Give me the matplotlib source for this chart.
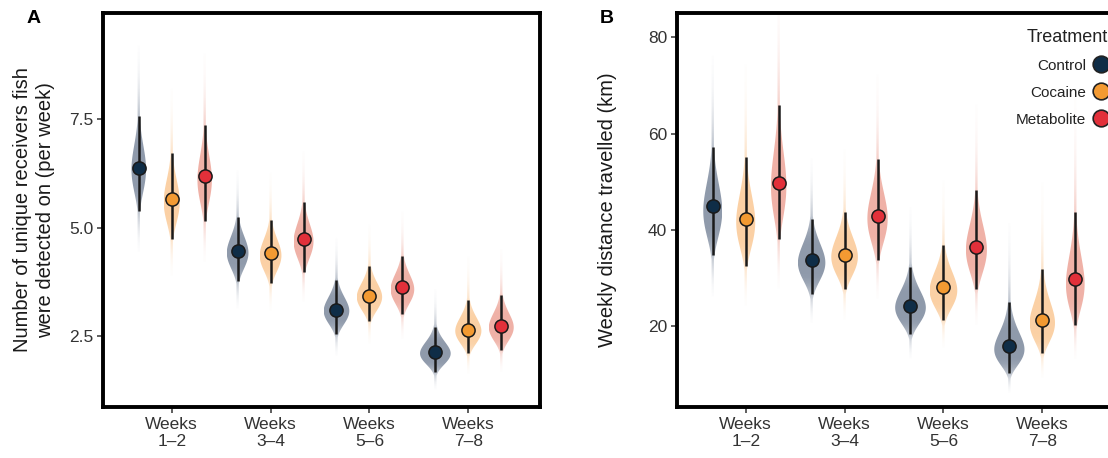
import numpy as np
import matplotlib
matplotlib.use("Agg")
import matplotlib.pyplot as plt
from matplotlib.patches import Polygon
from matplotlib.lines import Line2D

plt.rcParams['font.family'] = ['Liberation Sans', 'DejaVu Sans']

periods = ["Weeks\n1–2", "Weeks\n3–4", "Weeks\n5–6", "Weeks\n7–8"]
treatments = ["Control", "Cocaine", "Metabolite"]
dot_colors = ["#0f2d47", "#f39a32", "#e2303a"]
slab_colors = ["#1f3557", "#f7a24a", "#e0644e"]

# panel A - unique receivers per week: estimate, lower and upper interval
recv_mid = [[6.37, 4.46, 3.09, 2.12],
            [5.66, 4.41, 3.42, 2.64],
            [6.18, 4.73, 3.62, 2.73]]
recv_lo = [[5.39, 3.77, 2.54, 1.66],
           [4.73, 3.71, 2.85, 2.10],
           [5.15, 3.98, 2.99, 2.16]]
recv_hi = [[7.58, 5.24, 3.79, 2.71],
           [6.72, 5.18, 4.11, 3.33],
           [7.36, 5.58, 4.34, 3.45]]

# panel B - weekly distance travelled (km)
dist_mid = [[44.9, 33.8, 24.3, 15.9],
            [42.2, 34.8, 28.1, 21.4],
            [49.8, 43.0, 36.4, 29.8]]
dist_lo = [[34.8, 26.8, 18.4, 10.3],
           [32.6, 27.8, 21.3, 14.6],
           [38.1, 33.8, 27.8, 20.4]]
dist_hi = [[57.3, 42.3, 32.4, 25.0],
           [55.1, 43.8, 36.8, 31.9],
           [65.9, 54.8, 48.2, 43.8]]


def lnpdf(y, c, s):
    return np.exp(-(np.log(y) - c) ** 2 / (2 * s * s)) / (y * s * np.sqrt(2 * np.pi))


def alpha_ramp(z):
    z = np.abs(z)
    a = np.where(z < 0.7, 1.0, np.exp(-0.5 * ((z - 0.7) / 1.25) ** 2))
    return 0.5 * a


def draw_panel(ax, mid, lo, hi, ylim, yticks, ylabel, letter):
    offsets = [-1 / 3, 0, 1 / 3]
    # shared density scale inside panel
    peaks = []
    for t in range(3):
        for g in range(4):
            c = (np.log(lo[t][g]) + np.log(hi[t][g])) / 2
            s = (np.log(hi[t][g]) - np.log(lo[t][g])) / (2 * 1.96)
            yy = np.linspace(np.exp(c - 3 * s), np.exp(c + 3 * s), 400)
            peaks.append(lnpdf(yy, c, s).max())
    k = 0.155 / max(peaks)
    wmin = 0.012

    for t in range(3):
        rgb = matplotlib.colors.to_rgb(slab_colors[t])
        for g in range(4):
            x0 = g + 1 + offsets[t]
            c = (np.log(lo[t][g]) + np.log(hi[t][g])) / 2
            s = (np.log(hi[t][g]) - np.log(lo[t][g])) / (2 * 1.96)
            y0, y1 = np.exp(c - 4.2 * s), np.exp(c + 4.2 * s)
            yy = np.linspace(y0, y1, 500)
            w = np.maximum(k * lnpdf(yy, c, s), wmin)
            verts = np.concatenate([np.column_stack([x0 - w, yy]),
                                    np.column_stack([x0 + w, yy])[::-1]])
            poly = Polygon(verts, closed=True, facecolor='none', edgecolor='none')
            ax.add_patch(poly)
            z = (np.log(yy) - c) / s
            img = np.zeros((len(yy), 1, 4))
            img[:, 0, :3] = rgb
            img[:, 0, 3] = alpha_ramp(z)
            wmax = w.max()
            im = ax.imshow(img, extent=[x0 - wmax, x0 + wmax, y0, y1], origin='lower',
                           aspect='auto', interpolation='bilinear', zorder=2)
            im.set_clip_path(poly)
            ax.plot([x0, x0], [lo[t][g], hi[t][g]], color='#1a1a1a', lw=1.8,
                    solid_capstyle='butt', zorder=3)
        xs = [g + 1 + offsets[t] for g in range(4)]
        ax.plot(xs, mid[t], ls='none', marker='o', ms=9.5, mfc=dot_colors[t],
                mec='#1a1a1a', mew=1.1, zorder=4)

    ax.set_xlim(0.305, 4.725)
    ax.set_ylim(*ylim)
    ax.set_xticks([1, 2, 3, 4])
    ax.set_xticklabels(periods)
    ax.set_yticks(yticks)
    if isinstance(yticks[0], float):
        ax.set_yticklabels([f"{v:.1f}" for v in yticks])
    for sp in ax.spines.values():
        sp.set_linewidth(2.8)
        sp.set_color('black')
    ax.tick_params(axis='both', length=4, width=1.1, color='#333333',
                   labelsize=12.5, labelcolor='#333333', pad=3)
    ax.set_ylabel(ylabel, fontsize=14.5, color='#1a1a1a', va='center',
                  linespacing=1.3)
    ax.yaxis.set_label_coords(-0.158, 0.5)
    ax.text(-0.16, 0.985, letter, transform=ax.transAxes, fontsize=14,
            fontweight='bold', ha='center', va='center')


fig = plt.figure(figsize=(11.08, 4.58), dpi=100)
ax_a = fig.add_axes([103 / 1108, 51 / 458, 437 / 1108, 394 / 458])
ax_b = fig.add_axes([677 / 1108, 51 / 458, 437 / 1108, 394 / 458])

draw_panel(ax_a, recv_mid, recv_lo, recv_hi, (0.85, 9.96), [2.5, 5.0, 7.5],
           "Number of unique receivers fish\nwere detected on (per week)", "A")
draw_panel(ax_b, dist_mid, dist_lo, dist_hi, (3.3, 85.0), [20, 40, 60, 80],
           "Weekly distance travelled (km)", "B")

handles = [Line2D([], [], ls='none', marker='o', ms=12, mfc=c, mec='#222222', mew=1.2)
           for c in dot_colors]
leg = ax_b.legend(handles, treatments, title='Treatment', loc='upper right',
                  bbox_to_anchor=(1116 / 1108, 1 - 21 / 458), bbox_transform=fig.transFigure,
                  frameon=False, markerfirst=False, borderpad=0, fontsize=11,
                  title_fontsize=13, labelspacing=0.85, handletextpad=0.45,
                  handlelength=1.0, alignment='right')
for txt in leg.get_texts():
    txt.set_color('#222222')
leg.get_title().set_color('#222222')

fig.savefig("out.png", dpi=100)
